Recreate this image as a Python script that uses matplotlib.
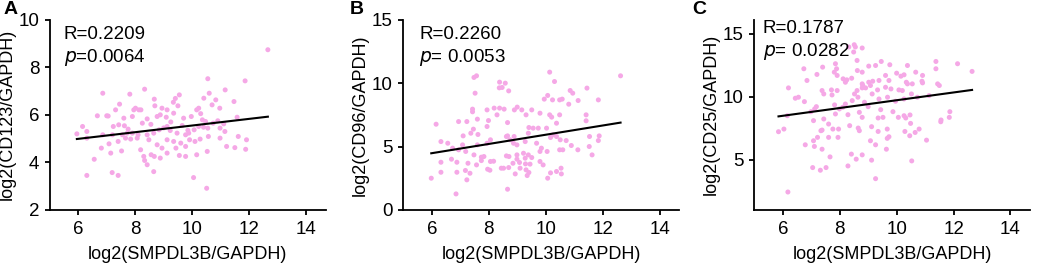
import numpy as np
import matplotlib
matplotlib.use('Agg')
import matplotlib.pyplot as plt

plt.rcParams['font.family'] = ['Liberation Sans', 'DejaVu Sans']

# 数据: log2(SMPDL3B/GAPDH) 与各指标
a_x = [12.66, 10.55, 11.86, 11.16, 8.33, 6.86, 7.81, 9.55, 10.6, 9.41, 10.41, 10.83, 8.67, 11.47,
       7.45, 9.34, 10.97, 10.7, 8.01, 8.13, 7.95, 7.31, 8.2, 10.23, 9.12, 8.94, 9.5, 8.69, 6.67,
       7.0, 7.9, 8.42, 8.77, 8.88, 9.09, 9.35, 9.7, 9.97, 10.16, 10.36, 10.47, 10.74, 11.11, 11.58,
       7.6, 7.42, 7.62, 7.23, 6.15, 5.95, 6.3, 6.86, 7.2, 7.55, 7.72, 7.9, 8.1, 8.42, 8.65, 8.84,
       9.12, 9.23, 9.47, 9.77, 9.88, 10.07, 10.23, 10.4, 10.55, 10.98, 11.15, 11.62, 11.91, 6.3,
       6.81, 7.08, 7.4, 7.66, 7.84, 8.07, 8.48, 8.77, 8.94, 9.12, 9.35, 9.6, 9.91, 10.1, 10.28,
       10.57, 10.98, 11.21, 11.5, 11.88, 7.52, 7.14, 8.19, 8.3, 8.56, 8.67, 8.88, 9.12, 9.43, 9.55,
       9.77, 10.16, 10.53, 9.77, 6.56, 8.33, 8.42, 8.65, 7.19, 6.3, 7.4, 10.05, 10.51,
       7.05, 8.55, 9.0, 9.65, 10.3, 8.25, 9.85, 10.9, 7.75, 9.25]
a_y = [8.74, 7.52, 7.43, 7.05, 7.08, 6.91, 6.87, 6.84, 6.91, 6.69, 6.7, 6.63, 6.66, 6.56,
       6.45, 6.53, 6.28, 6.42, 6.28, 6.21, 6.21, 6.21, 6.21, 6.28, 6.21, 6.28, 6.38, 6.38, 5.96,
       5.96, 5.93, 5.83, 5.93, 6.0, 5.9, 6.07, 5.86, 5.93, 6.21, 5.79, 5.72, 5.65, 5.62, 5.9,
       5.86, 5.58, 5.54, 5.51, 5.51, 5.2, 5.3, 5.16, 5.16, 5.16, 5.23, 5.23, 5.16, 5.16, 5.23, 5.37,
       5.51, 5.34, 5.23, 5.16, 5.23, 5.37, 5.51, 5.48, 5.44, 5.44, 5.3, 5.09, 4.95, 5.02,
       4.6, 4.78, 4.88, 5.02, 4.98, 5.02, 4.95, 4.74, 4.6, 4.95, 4.88, 4.81, 4.95, 4.88, 4.98,
       5.09, 5.02, 4.67, 4.62, 4.55, 4.48, 4.39, 4.53, 4.25, 4.32, 4.25, 4.18, 4.39, 4.6, 4.29,
       4.25, 4.32, 4.46, 4.67, 4.13, 4.08, 3.9, 3.61, 3.57, 3.45, 3.45, 3.36, 2.91,
       5.95, 5.6, 5.45, 5.55, 6.05, 5.65, 5.35, 5.75, 5.4, 5.7]

b_x = [12.63, 7.57, 10.14, 7.48, 8.38, 8.58, 8.47, 8.37, 10.31, 7.52, 8.7, 9.95, 10.07, 10.86,
       10.95, 11.45, 11.85, 10.24, 10.49, 10.58, 9.0, 8.19, 8.38, 8.54, 8.9, 7.43, 7.43, 7.94,
       9.16, 10.81, 11.14, 10.49, 10.14, 10.21, 9.31, 9.8, 9.51, 11.42, 11.42, 8.29, 6.94, 7.23,
       6.15, 7.6, 7.99, 8.66, 10.38, 9.74, 9.41, 7.46, 7.37, 7.94, 7.62, 7.1, 8.06, 8.62, 8.89,
       9.39, 9.56, 10.03, 10.26, 10.38, 10.17, 10.51, 10.72, 11.54, 11.88, 11.85, 8.66, 6.32,
       6.56, 7.08, 7.6, 7.94, 8.75, 8.87, 8.99, 9.68, 9.28, 9.85, 9.8, 10.05, 10.49, 10.6, 10.9,
       11.13, 11.53, 11.63, 6.73, 6.94, 7.19, 7.48, 7.74, 7.83, 8.06, 8.17, 8.62, 8.71, 8.99,
       9.22, 9.28, 9.39, 9.51, 8.99, 6.32, 6.69, 6.88, 7.27, 7.57, 7.74, 7.96, 8.04, 8.44, 8.7,
       8.85, 9.08, 9.29, 9.45, 9.8, 9.91, 9.31, 9.1, 9.41, 9.35, 10.17, 10.07, 10.38, 10.54,
       10.55, 8.93, 8.52, 7.18, 7.34, 6.88, 7.23, 6.32, 5.98, 6.85, 8.66]
b_y = [10.58, 10.58, 10.87, 10.45, 10.08, 10.0, 9.66, 9.63, 10.13, 9.21, 9.39, 8.74, 9.03, 9.42,
       9.21, 9.61, 8.68, 8.68, 8.68, 8.74, 8.11, 8.03, 8.03, 7.95, 7.89, 7.95, 7.74, 7.89,
       7.89, 8.34, 8.63, 7.5, 7.5, 7.32, 7.5, 7.63, 7.89, 7.5, 7.03, 7.5, 6.97, 6.97,
       6.76, 7.16, 7.05, 6.89, 6.84, 6.45, 6.5, 6.37, 6.05, 6.58, 5.95, 5.84, 5.53, 5.79, 5.79,
       6.05, 6.45, 6.45, 5.92, 5.79, 5.71, 5.53, 5.47, 5.79, 5.84, 5.47, 5.84, 5.39,
       5.26, 5.13, 5.13, 5.26, 5.53, 5.26, 5.13, 5.26, 5.39, 4.87, 4.61, 4.61, 4.74, 4.74, 5.08,
       4.74, 5.0, 4.34, 4.87, 4.74, 4.61, 4.34, 4.16, 4.21, 3.82, 3.84, 4.26, 4.21, 4.34,
       4.47, 4.08, 4.34, 4.13, 4.0, 3.76, 4.0, 3.76, 3.68, 3.55, 3.89, 3.21, 3.13, 3.29, 3.34,
       3.68, 3.74, 3.63, 3.61, 3.82, 3.55, 3.16, 3.29, 2.95, 2.71, 2.92, 2.5, 3.03, 3.29,
       2.84, 2.84, 3.29, 3.11, 2.89, 2.97, 2.37, 2.97, 2.5, 1.26, 1.63]

c_x = [8.51, 8.55, 8.32, 8.79, 8.49, 8.61, 9.46, 9.76, 10.38, 11.38, 12.14, 7.85, 6.74, 7.4,
       7.89, 8.62, 9.26, 9.02, 7.2, 7.81, 7.91, 8.79, 9.61, 10.0, 10.15, 10.26, 10.67, 11.38,
       10.91, 10.34, 6.85, 8.12, 8.25, 8.42, 8.2, 9.02, 9.16, 9.38, 9.73, 8.79, 8.81, 8.91, 8.79,
       9.08, 10.38, 10.55, 10.2, 9.61, 9.33, 9.8, 10.08, 10.52, 10.91, 11.5, 11.44, 10.89, 7.38,
       7.71, 7.91, 7.44, 7.73, 8.61, 8.52, 8.64, 9.14, 9.38, 9.68, 9.96, 10.26, 10.73, 11.14, 6.2,
       6.44, 6.55, 6.76, 7.18, 7.12, 7.82, 8.2, 8.44, 8.11, 8.87, 9.0, 9.44, 9.52, 9.35, 9.87,
       10.06, 10.26, 10.32, 10.47, 10.49, 11.56, 11.55, 11.85, 11.87, 6.99, 7.08, 7.44, 7.85,
       7.99, 8.29, 8.69, 8.79, 8.35, 8.65, 8.69, 9.12, 9.67, 9.35, 9.73, 9.67, 10.29, 10.65,
       10.79, 11.05, 10.46, 7.96, 7.76, 7.61, 7.38, 7.34, 7.22, 7.08, 7.61, 7.94, 6.79, 7.11,
       7.38, 9.08, 9.26, 9.64, 5.85, 6.04, 6.16, 7.66, 8.41, 8.58, 8.79, 9.12, 10.53, 7.05,
       7.32, 7.52, 8.29, 9.26, 6.18, 12.65]
c_y = [14.12, 13.94, 13.94, 13.86, 13.54, 12.87, 12.79, 12.53, 12.47, 12.79, 12.61, 12.61, 12.21,
       12.34, 12.21, 12.07, 12.47, 12.42, 11.76, 11.94, 11.68, 11.94, 11.68, 11.86, 11.62, 11.73,
       11.94, 12.21, 11.68, 11.14, 11.28, 11.41, 11.33, 11.46, 11.14, 11.14, 11.22, 11.28, 11.28,
       11.01, 10.88, 10.69, 10.69, 10.88, 11.01, 11.01, 10.48, 10.74, 10.53, 10.61, 10.53, 10.21,
       11.09, 10.88, 11.01, 11.22, 10.48, 10.53, 10.48, 10.21, 10.13, 10.48, 10.21, 9.95, 10.21,
       9.81, 9.95, 9.63, 9.81, 9.95, 10.08, 10.69, 9.87, 9.95, 9.6, 9.2, 9.02, 9.34, 9.41, 9.68,
       9.15, 9.55, 9.2, 8.96, 8.35, 8.3, 8.8, 8.35, 8.48, 8.3, 8.54, 7.87, 8.14, 8.0, 8.35, 8.8,
       8.8, 8.09, 8.22, 8.62, 9.02, 8.56, 8.75, 8.35, 7.69, 7.5, 7.29, 7.61, 7.42, 7.23, 6.81,
       6.68, 7.23, 7.15, 7.42, 6.54, 6.89, 7.42, 7.42, 7.82, 7.34, 7.29, 6.76, 6.49, 6.76, 6.76,
       6.17, 6.04, 5.82, 6.49, 6.17, 5.82, 7.21, 7.42, 8.48, 5.21, 5.43, 5.03, 5.37, 4.95, 4.89,
       4.36, 4.15, 4.36, 4.49, 3.48, 2.42, 12.0]

# 回归线 (斜率, 截距)
a_fit = [0.14, 4.15]
b_fit = [0.364, 2.29]
c_fit = [0.309, 6.62]

panels = [
    ('A', a_x, a_y, a_fit, 'log2(CD123/GAPDH)', (2, 10), [2, 4, 6, 8, 10], 'R=0.2209', '=0.0064'),
    ('B', b_x, b_y, b_fit, 'log2(CD96/GAPDH)', (0, 15), [0, 5, 10, 15], 'R=0.2260', '= 0.0053'),
    ('C', c_x, c_y, c_fit, 'log2(CD25/GAPDH)', (1, 16.1), [5, 10, 15], 'R=0.1787', '= 0.0282'),
]
lefts = [0.048, 0.3886, 0.7267]
letter_x = [0.003, 0.337, 0.667]
text_pos = [(0.05, 0.965, 0.855), (0.057, 0.965, 0.855), (0.03, 1.0, 0.89)]
width = 0.266

fig = plt.figure(figsize=(10.38, 2.64), dpi=100)
pink = '#f5a8e6'

for (letter, x, y, fit, ylab, ylim, yticks, rtxt, pval), left, lx, tp in zip(panels, lefts, letter_x, text_pos):
    ax = fig.add_axes([left, 0.205, width, 0.72])
    ax.scatter(x, y, s=13, color=pink, edgecolors='none', zorder=2)
    xs = np.array([min(x), max(x)])
    ax.plot(xs, fit[0] * xs + fit[1], color='black', lw=1.5, zorder=3)
    ax.set_xlim(5.0, 14.7)
    ax.set_ylim(*ylim)
    ax.set_xticks([6, 8, 10, 12, 14])
    ax.set_yticks(yticks)
    ax.spines['top'].set_visible(False)
    ax.spines['right'].set_visible(False)
    ax.spines['left'].set_linewidth(1.3)
    ax.spines['bottom'].set_linewidth(1.3)
    ax.tick_params(width=1.3, length=3.7, labelsize=13.5, pad=4)
    ax.set_xlabel('log2(SMPDL3B/GAPDH)', fontsize=13, labelpad=6)
    ax.set_ylabel(ylab, fontsize=13, labelpad=2)
    ax.text(tp[0], tp[1], rtxt, transform=ax.transAxes, fontsize=13.5, va='top')
    ax.text(tp[0], tp[2], r'$\it{p}$' + pval, transform=ax.transAxes, fontsize=13.5, va='top')
    fig.text(lx, 0.995, letter, fontsize=14, fontweight='bold', va='top')

plt.savefig('out.png', dpi=100)
